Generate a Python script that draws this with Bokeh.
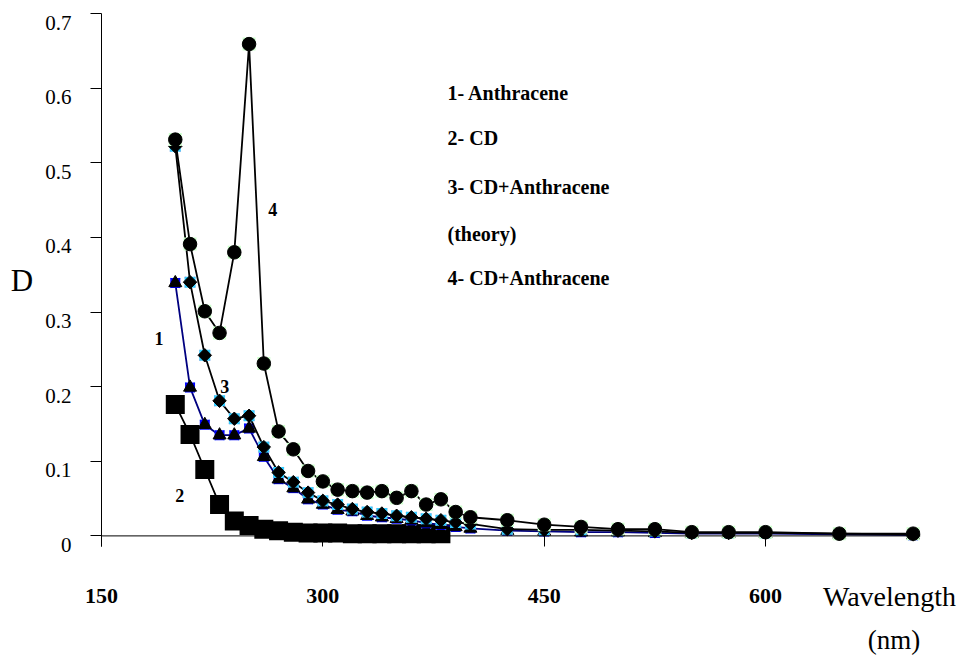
import numpy as np
from bokeh.plotting import figure
from bokeh.models import Range1d, FixedTicker, Span, Label, LinearAxis
from bokeh.embed import file_html
from bokeh.resources import INLINE

# ---------------- data ----------------
wavelength = [200, 210, 220, 230, 240, 250, 260, 270, 280, 290, 300, 310, 320, 330,
              340, 350, 360, 370, 380, 390, 400, 425, 450, 475, 500, 525, 550, 575,
              600, 650, 700]
anthracene = [0.339, 0.199, 0.149, 0.135, 0.135, 0.144, 0.106, 0.076, 0.064, 0.049,
              0.042, 0.035, 0.033, 0.027, 0.025, 0.023, 0.021, 0.017, 0.015, 0.012,
              0.010, 0.007, 0.006, 0.005, 0.005, 0.004, 0.003, 0.003, 0.003, 0.002,
              0.001]
cd_anthr_theory = [0.522, 0.340, 0.242, 0.181, 0.157, 0.161, 0.119, 0.085, 0.072, 0.058,
                   0.047, 0.042, 0.036, 0.032, 0.030, 0.027, 0.025, 0.023, 0.021, 0.018,
                   0.016, 0.009, 0.008, 0.008, 0.007, 0.006, 0.004, 0.004, 0.004, 0.003,
                   0.002]
cd_anthr = [0.531, 0.391, 0.301, 0.272, 0.380, 0.659, 0.231, 0.140, 0.116, 0.087,
            0.073, 0.062, 0.060, 0.058, 0.060, 0.051, 0.060, 0.042, 0.049, 0.032,
            0.025, 0.021, 0.015, 0.012, 0.009, 0.009, 0.005, 0.005, 0.005, 0.003,
            0.003]
wavelength_cd = [200, 210, 220, 230, 240, 250, 260, 270, 280, 290, 300, 310, 320, 330,
                 340, 350, 360, 370, 380]
cd = [0.176, 0.136, 0.089, 0.042, 0.020, 0.014, 0.009, 0.007, 0.005, 0.004, 0.004,
      0.004, 0.003, 0.003, 0.003, 0.003, 0.003, 0.003, 0.003]

x_ticks = [150, 300, 450, 600]
y_ticks = [0, 0.1, 0.2, 0.3, 0.4, 0.5, 0.6, 0.7]
y_tick_labels = ["0", "0.1", "0.2", "0.3", "0.4", "0.5", "0.6", "0.7"]

x_title = "Wavelength"
x_unit = "(nm)"
x_title_at = 684      # wavelength value under which the title is centred
x_unit_at = 687

legend_lines = ["1- Anthracene", "2- CD", "3- CD+Anthracene", "(theory)", "4- CD+Anthracene"]
legend_y = [0.594, 0.533, 0.468, 0.405, 0.345]
legend_x = 384.5

curve_names = ["1", "2", "3", "4"]
curve_name_x = [189, 203, 233.6, 266]
curve_name_y = [0.265, 0.054, 0.200, 0.438]

SERIF = "Liberation Serif"

# ---------------- layout constants ----------------
W, H = 962, 660
FL, FT, FB, FR = 101, 13, 546, 920          # frame edges in canvas pixels
X0, X1 = 150, 705
Y0, Y1 = -0.0142, 0.7
DROP = 9 * (Y1 - Y0) / (FB - FT)            # y tick labels sit ~9 px below their ticks

p = figure(width=W, height=H,
           x_range=Range1d(X0, X1), y_range=Range1d(Y0, Y1),
           output_backend="svg", toolbar_location=None,
           min_border_left=FL, min_border_right=W - FR, min_border_top=FT,
           min_border_bottom=H - FB)
p.outline_line_color = None
p.grid.visible = False
p.background_fill_color = "white"
p.border_fill_color = "white"

# x axis: ticks pointing down from the zero line, bold labels far below
xa = p.xaxis[0]
xa.ticker = FixedTicker(ticks=x_ticks)
xa.axis_line_color = None
xa.major_tick_in = 11
xa.major_tick_out = 0
xa.minor_tick_in = 0
xa.minor_tick_out = 0
xa.major_tick_line_color = "black"
xa.major_label_text_font = SERIF
xa.major_label_text_font_size = "22px"
xa.major_label_text_font_style = "bold"
xa.major_label_text_color = "black"
xa.major_label_standoff = 42


def text_axis(pos, label, standoff, size):
    ax = LinearAxis(ticker=FixedTicker(ticks=[pos]))
    ax.major_label_overrides = {pos: label}
    ax.axis_line_color = None
    ax.major_tick_in = 0
    ax.major_tick_out = 0
    ax.minor_tick_in = 0
    ax.minor_tick_out = 0
    ax.major_label_standoff = standoff
    ax.major_label_text_font = SERIF
    ax.major_label_text_font_size = size
    ax.major_label_text_font_style = "normal"
    ax.major_label_text_color = "black"
    return ax


# "Wavelength" on the tick-label row, "(nm)" below it
p.add_layout(text_axis(x_title_at, x_title, -25, "28px"), "below")
p.add_layout(text_axis(x_unit_at, x_unit, 10, "27px"), "below")

# y axis: line and outward ticks (its own labels are empty)
ya = p.yaxis[0]
ya.ticker = FixedTicker(ticks=y_ticks)
ya.axis_line_color = "black"
ya.major_tick_out = 11
ya.major_tick_in = 0
ya.minor_tick_in = 0
ya.minor_tick_out = 0
ya.major_tick_line_color = "black"
ya.major_label_overrides = {v: "" for v in y_ticks}
ya.major_label_standoff = 0

# second left axis carrying the tick labels, slightly lower than the ticks (as in the reference)
p.extra_y_ranges = {"ylab": Range1d(Y0 + DROP, Y1 + DROP)}
yl = LinearAxis(y_range_name="ylab", ticker=FixedTicker(ticks=y_ticks))
yl.major_label_overrides = dict(zip(y_ticks, y_tick_labels))
yl.axis_line_color = None
yl.major_tick_in = 0
yl.major_tick_out = 0
yl.minor_tick_in = 0
yl.minor_tick_out = 0
yl.major_label_standoff = 19
yl.major_label_text_font = SERIF
yl.major_label_text_font_size = "21px"
yl.major_label_text_color = "black"
yl.axis_label = "D"
yl.axis_label_orientation = "horizontal"
yl.axis_label_standoff = 9
yl.axis_label_text_font = SERIF
yl.axis_label_text_font_size = "31px"
yl.axis_label_text_font_style = "normal"
yl.axis_label_text_color = "black"
p.add_layout(yl, "left")

# zero line (x axis line)
p.add_layout(Span(location=0, dimension="width", line_color="black", line_width=1))

# ---------------- series ----------------
# 2 - CD (squares)
p.line(wavelength_cd, cd, line_color="black", line_width=1.8)
p.scatter(wavelength_cd, cd, marker="square", size=19, fill_color="black", line_color=None)

# 1 - Anthracene (triangles)
p.line(wavelength, anthracene, line_color="#000080", line_width=1.8)
p.scatter(wavelength, anthracene, marker="x", size=14, line_color="#99ccff", line_width=1.5)
p.scatter(wavelength, anthracene, marker="square", size=10, fill_color="#0000ff", line_color=None)
p.scatter(wavelength, anthracene, marker="triangle", size=13, fill_color="black", line_color="black")

# 3 - CD+Anthracene theory (diamonds)
p.line(wavelength, cd_anthr_theory, line_color="black", line_width=1.8)
p.scatter(wavelength, cd_anthr_theory, marker="x", size=15, line_color="#ff99cc", line_width=1.5)
p.scatter(wavelength, cd_anthr_theory, marker="square", size=11, fill_color="#33ccff", line_color=None)
p.scatter(wavelength, cd_anthr_theory, marker="square", angle=np.pi / 4, size=9.5,
          fill_color="black", line_color="black")

# 4 - CD+Anthracene (circles)
p.line(wavelength, cd_anthr, line_color="black", line_width=1.8)
p.scatter(wavelength, cd_anthr, marker="square", size=13, fill_color="#ccffcc", line_color=None)
p.scatter(wavelength, cd_anthr, marker="circle", size=13.5, fill_color="black", line_color="black")

# ---------------- texts inside the plot ----------------
for t, yy in zip(legend_lines, legend_y):
    p.add_layout(Label(x=legend_x, y=yy, text=t, text_align="left", text_baseline="middle",
                       text_font=SERIF, text_font_size="20px", text_font_style="bold",
                       text_color="black"))

for t, xx, yy in zip(curve_names, curve_name_x, curve_name_y):
    p.add_layout(Label(x=xx, y=yy, text=t, text_align="center", text_baseline="middle",
                       text_font=SERIF, text_font_size="18px", text_font_style="bold",
                       text_color="black"))

open("out.html", "w").write(file_html(p, INLINE))
